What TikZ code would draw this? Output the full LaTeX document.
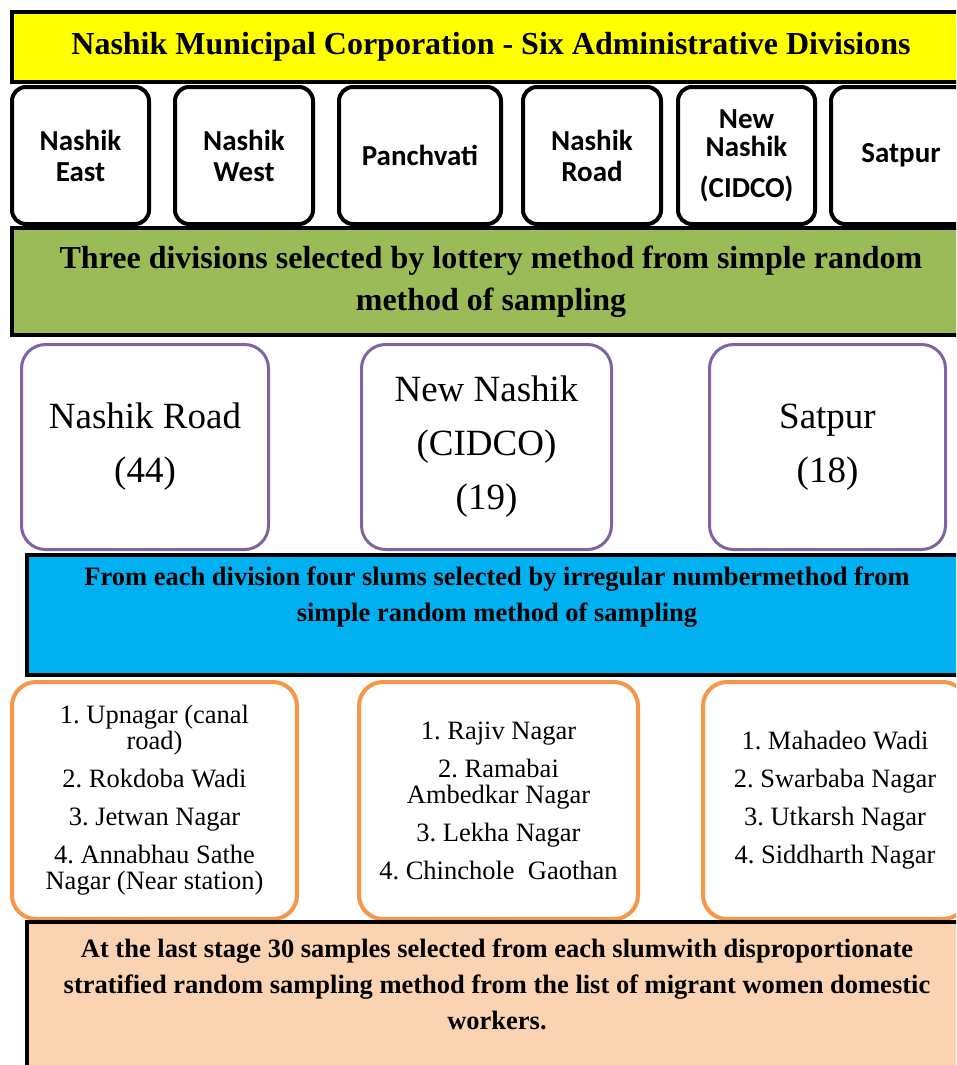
\documentclass[tikz,border=0pt]{standalone}
\usepackage{fontspec}
\setmainfont{Liberation Serif}
\newfontfamily\calibrifont{Carlito}
\frenchspacing
\definecolor{titleyellow}{HTML}{FFFF00}
\definecolor{lotgreen}{HTML}{9BBB59}
\definecolor{selpurple}{HTML}{8064A2}
\definecolor{slumblue}{HTML}{00B0F0}
\definecolor{slumorange}{HTML}{F79646}
\definecolor{lastpeach}{HTML}{FAD3B2}

\begin{document}
\begin{tikzpicture}[x=1pt, y=-1pt,
		bandbox/.style={draw=black, line width=4pt, anchor=north west, inner sep=0pt, align=center},
		divbox/.style={draw=black, line width=4pt, rounded corners=14pt, anchor=north west, inner sep=0pt,
			minimum height=137pt, align=center, font=\calibrifont\bfseries\fontsize{29}{31}\selectfont},
		selbox/.style={draw=selpurple, line width=3pt, rounded corners=24pt, anchor=north west, inner sep=0pt,
			minimum height=205pt, align=center, font=\fontsize{37}{54}\selectfont},
		slumbox/.style={draw=slumorange, line width=4pt, rounded corners=24pt, anchor=north west, inner sep=0pt,
			minimum height=237pt, align=center, font=\fontsize{26.5}{26}\selectfont},
		boldtext/.style={align=center, inner sep=0pt, font=\bfseries\fontsize{26.5}{36}\selectfont}]
		\clip (0,0) rectangle (956,1065);
		\fill[white] (0,0) rectangle (956,1065);
		%
		\node[bandbox, fill=titleyellow, minimum width=958pt, minimum height=70pt,
			font=\bfseries\fontsize{32}{40}\selectfont] (title) at (10,10)
			{Nashik Municipal Corporation - Six Administrative Divisions};
		%
		\node[divbox, minimum width=137pt] (div1) at (10,85) {Nashik\\East};
		\node[divbox, minimum width=138pt] (div2) at (173,85) {Nashik\\West};
		\node[divbox, minimum width=162pt] (div3) at (337,85) {Panchvati};
		\node[divbox, minimum width=138pt] (div4) at (521,85) {Nashik\\Road};
		\node[divbox, minimum width=137pt] (div5) at (676,85) {New\\[-3pt]Nashik\\[10pt](CIDCO)};
		\node[divbox, minimum width=140pt] (div6) at (829,85) {Satpur};
		%
		\node[bandbox, fill=lotgreen, minimum width=958pt, minimum height=107pt,
			font=\bfseries\fontsize{32}{42}\selectfont] (lottery) at (10,226)
			{Three divisions selected by lottery method from simple random\\method of sampling};
		%
		\node[selbox, minimum width=247pt] (sel1) at (20,343) {Nashik Road\\(44)};
		\node[selbox, minimum width=250pt] (sel2) at (360,343) {New Nashik\\(CIDCO)\\(19)};
		\node[selbox, minimum width=236pt] (sel3) at (708,343) {Satpur\\(18)};
		%
		\node[bandbox, fill=slumblue, minimum width=944pt, minimum height=120pt] (slumband) at (25,553) {};
		\node[boldtext] (slumtext) at (497,597)
			{From each division four slums selected by irregular numbermethod from\\simple random method of sampling};
		%
		\node[slumbox, minimum width=285pt] (slum1) at (10,680)
			{1. Upnagar (canal\\road)\\[12pt]2. Rokdoba Wadi\\[12pt]3. Jetwan Nagar\\[12pt]4. Annabhau Sathe\\Nagar (Near station)};
		\node[slumbox, minimum width=279pt] (slum2) at (357,680)
			{1. Rajiv Nagar\\[12pt]2. Ramabai\\Ambedkar Nagar\\[12pt]3. Lekha Nagar\\[12pt]4. Chinchole~ Gaothan};
		\node[slumbox, minimum width=264pt] (slum3) at (701,680)
			{1. Mahadeo Wadi\\[12pt]2. Swarbaba Nagar\\[12pt]3. Utkarsh Nagar\\[12pt]4. Siddharth Nagar};
		%
		\node[bandbox, fill=lastpeach, minimum width=944pt, minimum height=170pt] (lastband) at (25,920) {};
		\node[boldtext] (lasttext) at (497,984)
			{At the last stage 30 samples selected from each slumwith disproportionate\\stratified random sampling method from the list of migrant women domestic\\workers.};
	\end{tikzpicture}
\end{document}
